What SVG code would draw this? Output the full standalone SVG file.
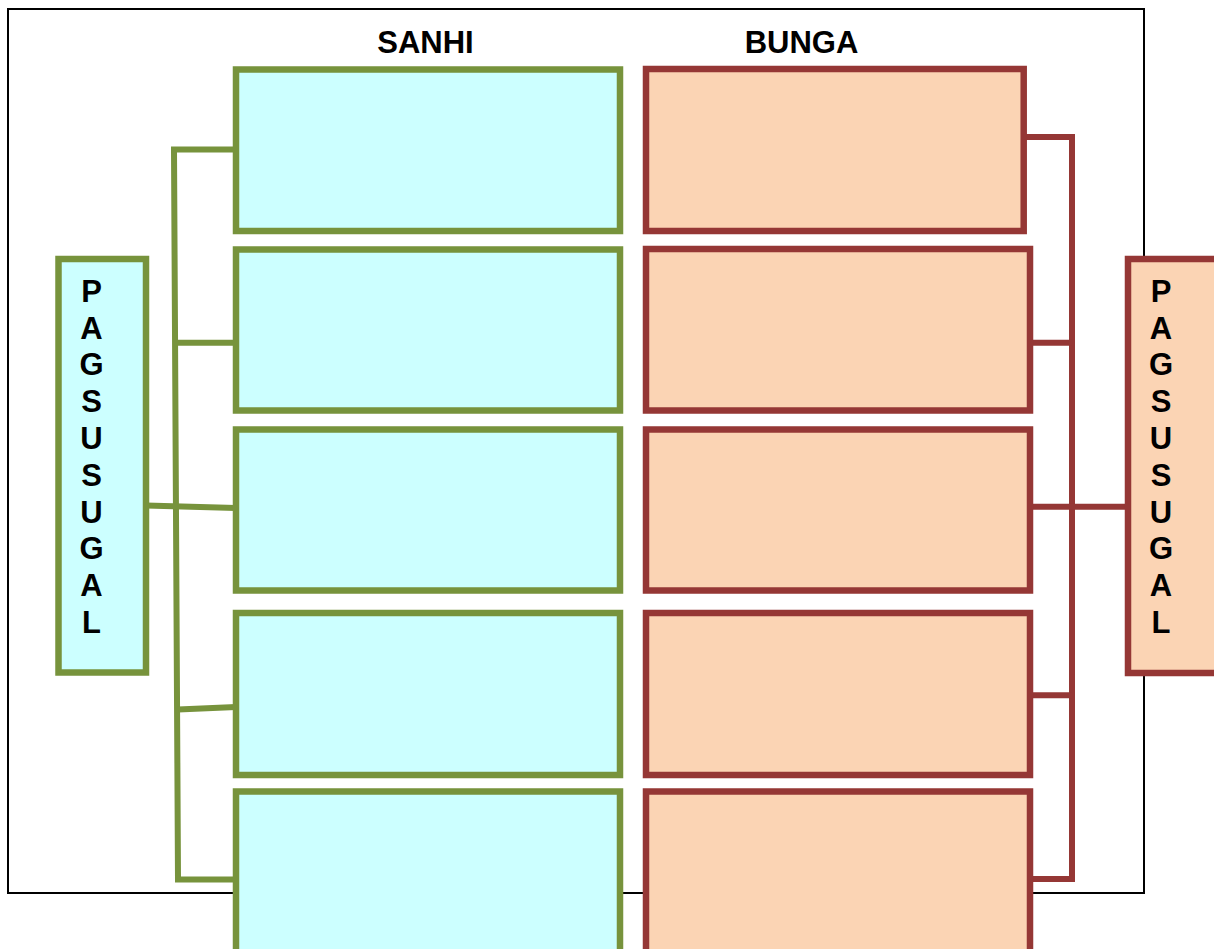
<svg xmlns="http://www.w3.org/2000/svg" width="1214" height="949" viewBox="0 0 1214 949">
  <style>
    .g { fill: #CCFFFF; stroke: #77933C; stroke-width: 6.5; }
    .r { fill: #FBD4B4; stroke: #953735; stroke-width: 6.5; }
    .gl { fill: none; stroke: #77933C; stroke-width: 6; }
    .rl { fill: none; stroke: #953735; stroke-width: 6; }
    .t { font-family: "Liberation Sans", Arial, sans-serif; font-weight: bold; font-size: 31px; fill: #000; text-anchor: middle; }
  </style>
  <rect width="1214" height="949" fill="#fff"/>
  <rect id="frame" x="8" y="9" width="1136" height="884" fill="none" stroke="#000" stroke-width="2"/>
  <text id="h-sanhi" class="t" x="425.5" y="53.3">SANHI</text>
  <text id="h-bunga" class="t" x="801.5" y="53.3">BUNGA</text>
  <g id="connectors">
    <path class="gl" d="M236,149.5 L174,149.5 L178,879.5 L236,879.5"/>
    <path class="gl" d="M175,342.7 L236,342.7"/>
    <path class="gl" d="M146,505.5 L236,508"/>
    <path class="gl" d="M178,709.5 L236,707"/>
    <path class="rl" d="M1024,137 L1072,137 L1072,879 L1030,879"/>
    <path class="rl" d="M1030,342.7 L1072,342.7"/>
    <path class="rl" d="M1030,506.7 L1128,506.7"/>
    <path class="rl" d="M1030,695.3 L1072,695.3"/>
  </g>
  <g id="left-label">
    <rect class="g" x="58.5" y="259" width="87.5" height="413.5"/>
    <text class="t" x="91.5" y="301.7">P</text>
    <text class="t" x="91.5" y="338.5">A</text>
    <text class="t" x="91.5" y="375.3">G</text>
    <text class="t" x="91.5" y="412.1">S</text>
    <text class="t" x="91.5" y="448.9">U</text>
    <text class="t" x="91.5" y="485.7">S</text>
    <text class="t" x="91.5" y="522.5">U</text>
    <text class="t" x="91.5" y="559.3">G</text>
    <text class="t" x="91.5" y="596.1">A</text>
    <text class="t" x="91.5" y="632.9">L</text>
  </g>
  <g id="right-label">
    <rect class="r" x="1128" y="259" width="95" height="414"/>
    <text class="t" x="1161" y="301.7">P</text>
    <text class="t" x="1161" y="338.5">A</text>
    <text class="t" x="1161" y="375.3">G</text>
    <text class="t" x="1161" y="412.1">S</text>
    <text class="t" x="1161" y="448.9">U</text>
    <text class="t" x="1161" y="485.7">S</text>
    <text class="t" x="1161" y="522.5">U</text>
    <text class="t" x="1161" y="559.3">G</text>
    <text class="t" x="1161" y="596.1">A</text>
    <text class="t" x="1161" y="632.9">L</text>
  </g>
  <g id="sanhi-1"><rect class="g" x="236" y="69.5" width="384" height="161.5"/></g>
  <g id="sanhi-2"><rect class="g" x="236" y="249.5" width="384" height="161"/></g>
  <g id="sanhi-3"><rect class="g" x="236" y="429.5" width="384" height="161"/></g>
  <g id="sanhi-4"><rect class="g" x="236" y="613" width="384" height="162"/></g>
  <g id="sanhi-5"><rect class="g" x="236" y="791.5" width="384" height="180"/></g>
  <g id="bunga-1"><rect class="r" x="646" y="69" width="377.7" height="162"/></g>
  <g id="bunga-2"><rect class="r" x="646" y="249" width="384" height="161.5"/></g>
  <g id="bunga-3"><rect class="r" x="646" y="429.5" width="384" height="161"/></g>
  <g id="bunga-4"><rect class="r" x="646" y="613" width="384" height="162"/></g>
  <g id="bunga-5"><rect class="r" x="646" y="791.5" width="384" height="180"/></g>
</svg>
